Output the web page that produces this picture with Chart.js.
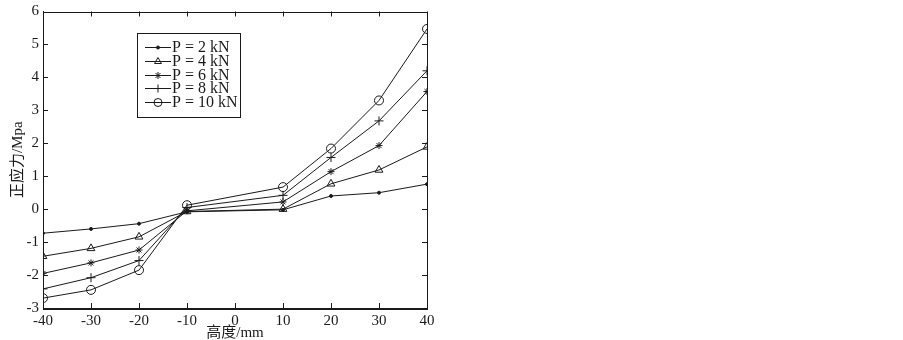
<!DOCTYPE html>
<html>
<head>
<meta charset="utf-8">
<script src="https://cdn.jsdelivr.net/npm/chart.js@4/dist/chart.umd.min.js"></script>
<style>
  html, body { margin: 0; padding: 0; background: #fff; }
  #wrap { position: relative; width: 903px; height: 340px; }
</style>
</head>
<body>
<div id="wrap"><canvas id="stress-chart"></canvas></div>
<script>
// 高度 (mm)
const heights = [-40, -30, -20, -10, 10, 20, 30, 40];
// 正应力 (MPa) per load
const p2 = [-0.73, -0.60, -0.44, -0.08, -0.02, 0.40, 0.50, 0.76];
const p4 = [-1.43, -1.19, -0.84, -0.07, 0.00, 0.77, 1.19, 1.89];
const p6 = [-1.95, -1.63, -1.24, -0.05, 0.22, 1.14, 1.93, 3.57];
const p8 = [-2.42, -2.08, -1.56, 0.05, 0.42, 1.57, 2.68, 4.20];
const p10 = [-2.70, -2.45, -1.85, 0.12, 0.67, 1.84, 3.30, 5.47];
const seriesLabels = ['P = 2 kN', 'P = 4 kN', 'P = 6 kN', 'P = 8 kN', 'P = 10 kN'];

const serif = "'Liberation Serif', 'Noto Sans CJK SC', serif";
const ink = '#1a1a1a';

const styles = [
  { pointStyle: 'circle', radius: 1.5, fill: ink },
  { pointStyle: 'triangle', radius: 4.5, fill: 'rgba(0,0,0,0)' },
  { pointStyle: 'star', radius: 3.5, fill: 'rgba(0,0,0,0)' },
  { pointStyle: 'cross', radius: 4.5, fill: 'rgba(0,0,0,0)' },
  { pointStyle: 'circle', radius: 4.5, fill: 'rgba(0,0,0,0)' },
];

const datasets = [p2, p4, p6, p8, p10].map((vals, i) => ({
  label: seriesLabels[i],
  data: heights.map((h, j) => ({ x: h, y: vals[j] })),
  borderColor: ink,
  borderWidth: 1,
  pointStyle: styles[i].pointStyle,
  pointRadius: styles[i].radius,
  pointBackgroundColor: styles[i].fill,
  pointBorderColor: ink,
  pointBorderWidth: 1,
  tension: 0,
}));

// frame, inward ticks and boxed legend like the matlab figure
const framePlugin = {
  id: 'frame',
  afterDraw(chart) {
    const { ctx, chartArea: a, scales } = chart;
    ctx.save();
    ctx.strokeStyle = ink;
    ctx.lineWidth = 1;
    ctx.strokeRect(Math.round(a.left) + 0.5, Math.round(a.top) + 0.5,
      Math.round(a.right - a.left), Math.round(a.bottom - a.top));
    const len = 5;
    ctx.beginPath();
    scales.x.ticks.forEach(t => {
      const px = Math.round(scales.x.getPixelForValue(t.value)) + 0.5;
      ctx.moveTo(px, a.bottom); ctx.lineTo(px, a.bottom - len);
      ctx.moveTo(px, a.top); ctx.lineTo(px, a.top + len);
    });
    scales.y.ticks.forEach(t => {
      const py = Math.round(scales.y.getPixelForValue(t.value)) + 0.5;
      ctx.moveTo(a.left, py); ctx.lineTo(a.left + len, py);
      ctx.moveTo(a.right, py); ctx.lineTo(a.right - len, py);
    });
    ctx.stroke();

    // legend box
    const bx = 137, by = 33, bw = 103, bh = 84;
    ctx.fillStyle = '#fff';
    ctx.fillRect(bx, by, bw, bh);
    ctx.strokeRect(bx + 0.5, by + 0.5, bw, bh);
    const rows = [47, 61, 74.5, 88, 101.7];
    ctx.font = '16px ' + serif;
    ctx.textBaseline = 'middle';
    ctx.textAlign = 'left';
    chart.data.datasets.forEach((ds, i) => {
      const y = Math.round(rows[i]) + 0.5;
      ctx.strokeStyle = ink;
      ctx.beginPath();
      ctx.moveTo(145, y); ctx.lineTo(171, y);
      ctx.stroke();
      ctx.fillStyle = ds.pointBackgroundColor;
      Chart.helpers.drawPoint(ctx, {
        pointStyle: ds.pointStyle, radius: Math.min(ds.pointRadius, 4), borderWidth: 1, rotation: 0,
      }, 158, y);
      ctx.fillStyle = ink;
      ctx.fillText(ds.label, 172, rows[i] + 1);
    });
    ctx.restore();
  },
};

new Chart(document.getElementById('stress-chart'), {
  type: 'line',
  data: { datasets },
  options: {
    responsive: true,
    maintainAspectRatio: false,
    animation: false,
    layout: { padding: { top: 7, right: 476, bottom: 0, left: 0 } },
    plugins: { legend: { display: false }, tooltip: { enabled: false } },
    scales: {
      x: {
        type: 'linear',
        min: -40,
        max: 40,
        ticks: { stepSize: 10, color: ink, padding: 6, font: { family: serif, size: 15, lineHeight: 1 } },
        grid: { display: false, drawTicks: false },
        border: { display: true, color: ink },
        title: {
          display: true, text: '高度/mm', color: ink,
          font: { family: serif, size: 15 }, padding: { top: 0, bottom: -2 },
        },
        afterFit: s => { s.height = 32; },
      },
      y: {
        min: -3,
        max: 6,
        ticks: { stepSize: 1, color: ink, padding: 4, font: { family: serif, size: 15, lineHeight: 1 } },
        grid: { display: false, drawTicks: false },
        border: { display: true, color: ink },
        title: {
          display: true, text: '正应力/Mpa', color: ink,
          font: { family: serif, size: 15 }, padding: { top: 9, bottom: 0 },
        },
        afterFit: s => { s.width = 43; },
      },
    },
  },
  plugins: [framePlugin],
});
</script>
</body>
</html>
